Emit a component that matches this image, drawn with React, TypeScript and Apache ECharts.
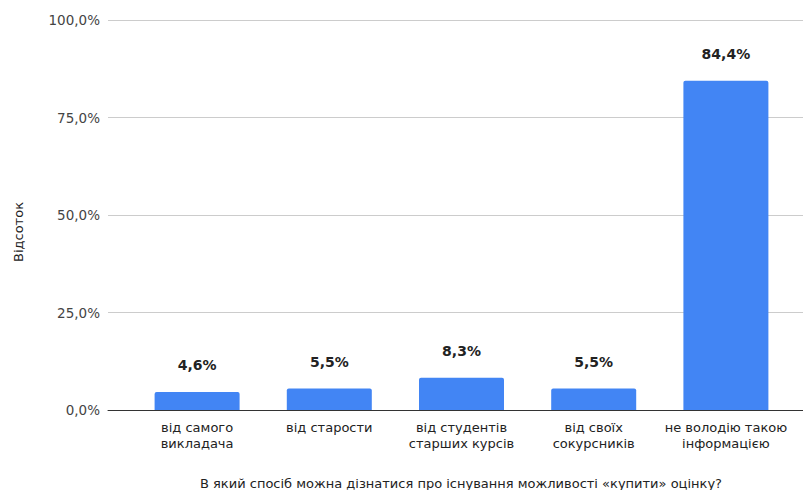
import React, { useEffect, useRef } from "react";
import * as echarts from "echarts";

const categories = [
  "від самого\nвикладача",
  "від старости",
  "від студентів\nстарших курсів",
  "від своїх\nсокурсників",
  "не володію такою\nінформацією",
];
const values = [4.6, 5.5, 8.3, 5.5, 84.4];
const yTicks = [0, 25, 50, 75, 100];
const yAxisTitle = "Відсоток";
const xAxisTitle = "В який спосіб можна дізнатися про існування можливості «купити» оцінку?";

const fmt = (v: number) => v.toFixed(1).replace(".", ",") + "%";

export default function App() {
  const ref = useRef<HTMLDivElement>(null);
  useEffect(() => {
    if (!ref.current) return;
    const chart = echarts.init(ref.current, undefined, { renderer: "svg" });
    const font = "'DejaVu Sans', Arial, sans-serif";
    chart.setOption({
      animation: false,
      textStyle: { fontFamily: font },
      grid: [
        { left: 108, right: 0, top: 20, bottom: 80 },
        { left: 131, right: 11, top: 20, bottom: 80 },
      ],
      xAxis: [
        {
          type: "value",
          gridIndex: 0,
          min: 0,
          max: 1,
          axisLine: { show: true, lineStyle: { color: "#333", width: 1 } },
          axisTick: { show: false },
          axisLabel: { show: false },
          splitLine: { show: false },
        },
        {
          type: "category",
          gridIndex: 1,
          data: categories,
          axisLine: { show: false },
          axisTick: { show: false },
          axisLabel: {
            color: "#222",
            fontSize: 13,
            lineHeight: 16,
            margin: 9,
            interval: 0,
            fontFamily: font,
          },
        },
      ],
      yAxis: [
        {
          type: "value",
          gridIndex: 0,
          min: yTicks[0],
          max: yTicks[yTicks.length - 1],
          interval: 25,
          axisLine: { show: false },
          axisTick: { show: false },
          axisLabel: { color: "#444", fontSize: 13.5, margin: 8, formatter: (v: number) => fmt(v), fontFamily: font },
          splitLine: { lineStyle: { color: "#ccc", width: 1 } },
        },
        {
          type: "value",
          gridIndex: 1,
          min: 0,
          max: 100,
          show: false,
          splitLine: { show: false },
        },
      ],
      graphic: [
        {
          type: "text",
          x: 18,
          y: 232,
          rotation: Math.PI / 2,
          style: {
            text: yAxisTitle,
            fill: "#222",
            font: `13px ${font}`,
            textAlign: "center",
            textVerticalAlign: "middle",
          },
        },
        {
          type: "text",
          x: 461,
          y: 483,
          style: {
            text: xAxisTitle,
            fill: "#222",
            font: `13px ${font}`,
            textAlign: "center",
            textVerticalAlign: "middle",
          },
        },
      ],
      series: [
        {
          type: "bar",
          xAxisIndex: 1,
          yAxisIndex: 1,
          data: values,
          barWidth: 85,
          itemStyle: { color: "#4285F4", borderRadius: [2, 2, 0, 0] },
          label: {
            show: true,
            position: "top",
            distance: 20,
            color: "#222",
            fontSize: 14,
            fontWeight: "bold",
            fontFamily: font,
            formatter: (p: any) => fmt(p.value),
          },
        },
      ],
    });
    return () => chart.dispose();
  }, []);
  return <div ref={ref} style={{ width: 803, height: 490, position: "absolute", left: 0, top: 0 }} />;
}
